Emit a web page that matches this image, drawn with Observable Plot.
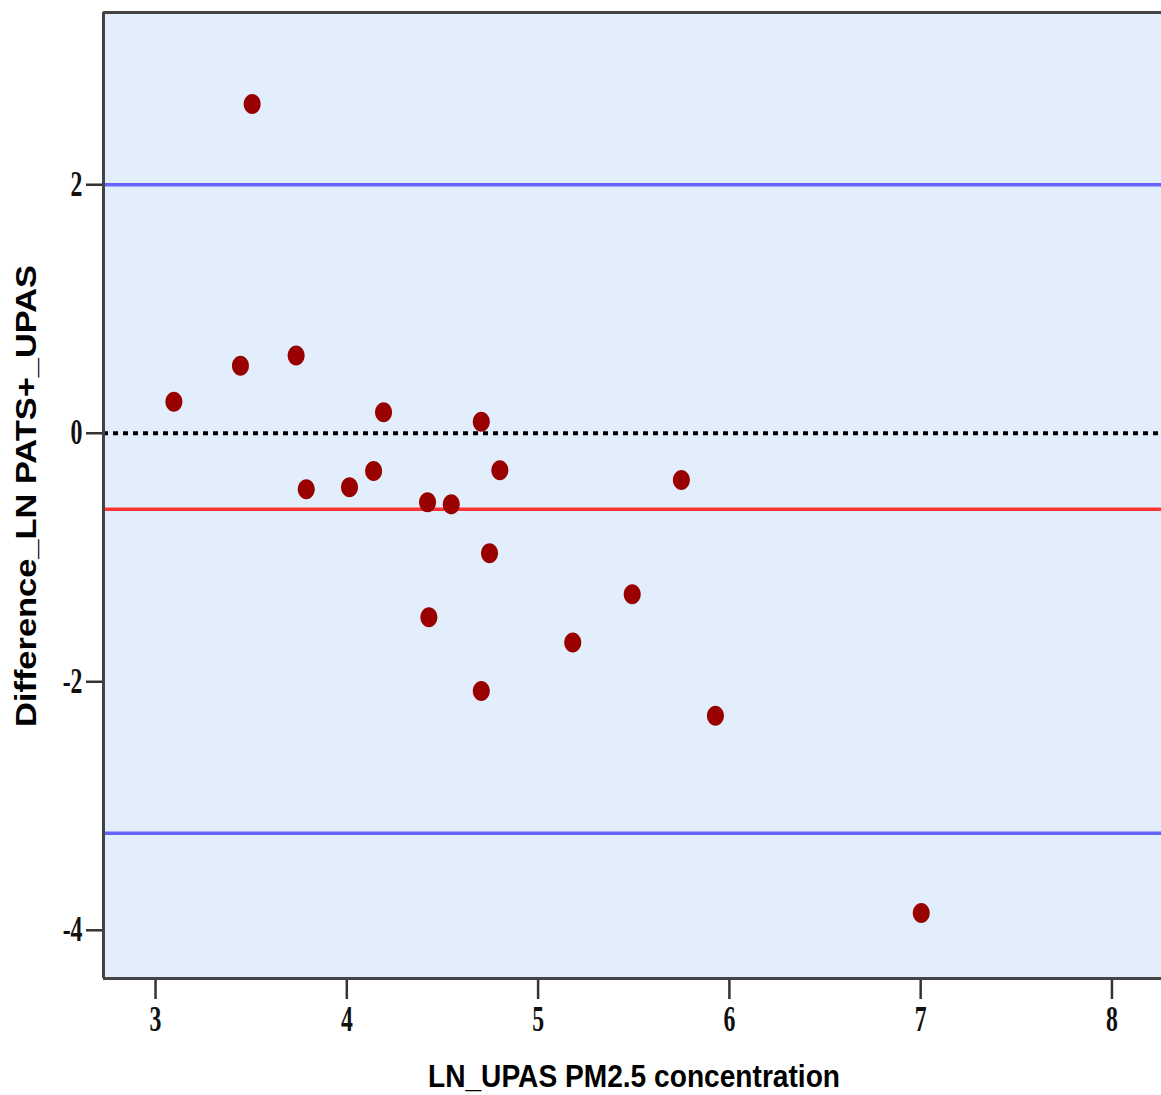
<!DOCTYPE html>
<html>
<head>
<meta charset="utf-8">
<script src="https://cdn.jsdelivr.net/npm/d3@7"></script>
<script src="https://cdn.jsdelivr.net/npm/@observablehq/plot@0.6"></script>
<style>
  html, body { margin: 0; padding: 0; background: #ffffff; }
  #chart svg { display: block; }
</style>
</head>
<body>
<div id="chart"></div>
<script>
// Data (Bland–Altman plot)
const meanValues = [3.096, 3.444, 3.505, 3.735, 3.788, 4.014, 4.140, 4.192, 4.422, 4.429, 4.546, 4.703, 4.703, 4.746, 4.800, 5.181, 5.492, 5.749, 5.927, 7.003];
const diffValues = [0.254, 0.544, 2.649, 0.625, -0.451, -0.435, -0.304, 0.169, -0.556, -1.481, -0.572, 0.093, -2.075, -0.966, -0.298, -1.683, -1.296, -0.376, -2.274, -3.860];
const meanDifference = -0.612;
const upperLimit = 2.0;
const lowerLimit = -3.22;
const zeroLine = 0;
const xTicks = [3, 4, 5, 6, 7, 8];
const yTicks = [-4, -2, 0, 2];
const xDomain = [2.728, 8.259];
const yDomain = [-4.388, 3.386];
const xLabel = "LN_UPAS PM2.5 concentration";
const yLabel = "Difference_LN PATS+_UPAS";

const points = meanValues.map((m, i) => ({mean: m, diff: diffValues[i]}));

// elliptical marker like the reference
const ellipse = {
  draw(ctx) {
    const rx = 8.5, ry = 10, k = 0.5523;
    ctx.moveTo(rx, 0);
    ctx.bezierCurveTo(rx, ry * k, rx * k, ry, 0, ry);
    ctx.bezierCurveTo(-rx * k, ry, -rx, ry * k, -rx, 0);
    ctx.bezierCurveTo(-rx, -ry * k, -rx * k, -ry, 0, -ry);
    ctx.bezierCurveTo(rx * k, -ry, rx, -ry * k, rx, 0);
    ctx.closePath();
  }
};

const chart = Plot.plot({
  width: 1161,
  height: 1095,
  marginLeft: 103,
  marginRight: 0,
  marginTop: 12,
  marginBottom: 117,
  x: {domain: xDomain},
  y: {domain: yDomain},
  style: {background: "#ffffff", overflow: "visible"},
  marks: [
    Plot.frame({fill: "#E2EEFB", stroke: null}),
    Plot.ruleY([upperLimit, lowerLimit], {stroke: "#6666FF", strokeWidth: 3.5}),
    Plot.ruleY([meanDifference], {stroke: "#FF3333", strokeWidth: 3.5}),
    Plot.ruleY([zeroLine], {stroke: "#000000", strokeWidth: 4, strokeDasharray: "5,5"}),
    Plot.dot(points, {x: "mean", y: "diff", symbol: ellipse, fill: "#990000", stroke: null}),
    Plot.axisX({ticks: xTicks, tickSize: 21, tickPadding: 7, tickFormat: d => String(d), label: null, stroke: "#333", strokeWidth: 2.5}),
    Plot.axisY({ticks: yTicks, tickSize: 17, tickPadding: 4, tickFormat: d => String(d), label: null, stroke: "#333", strokeWidth: 2.5}),
    // plot border: left, top, bottom (right side is cut off in the reference)
    Plot.ruleX([xDomain[0]], {stroke: "#444", strokeWidth: 3}),
    Plot.ruleY(yDomain, {stroke: "#444", strokeWidth: 3})
  ]
});

document.getElementById("chart").appendChild(chart);

const svg = d3.select(chart);
// style tick labels: condensed serif digits
svg.selectAll("[aria-label='x-axis tick label'] text, [aria-label='y-axis tick label'] text")
  .attr("font-family", "'Liberation Serif', 'DejaVu Serif', serif")
  .attr("font-size", 35)
  .attr("font-weight", "bold")
  .attr("fill", "#111")
  .each(function() {
    const t = d3.select(this);
    const tr = t.attr("transform") || "";
    t.attr("transform", tr + " scale(0.68,1)");
  });

// axis titles
svg.append("text")
  .attr("x", 634)
  .attr("y", 1087)
  .attr("text-anchor", "middle")
  .attr("font-family", "'Liberation Sans', Arial, sans-serif")
  .attr("font-weight", "bold")
  .attr("font-size", 31)
  .attr("fill", "#000")
  .attr("textLength", 412)
  .attr("lengthAdjust", "spacingAndGlyphs")
  .text(xLabel);

svg.append("text")
  .attr("transform", "translate(36,496) rotate(-90)")
  .attr("text-anchor", "middle")
  .attr("font-family", "'Liberation Sans', Arial, sans-serif")
  .attr("font-weight", "bold")
  .attr("font-size", 30)
  .attr("fill", "#000")
  .attr("textLength", 462)
  .attr("lengthAdjust", "spacingAndGlyphs")
  .text(yLabel);
</script>
</body>
</html>
